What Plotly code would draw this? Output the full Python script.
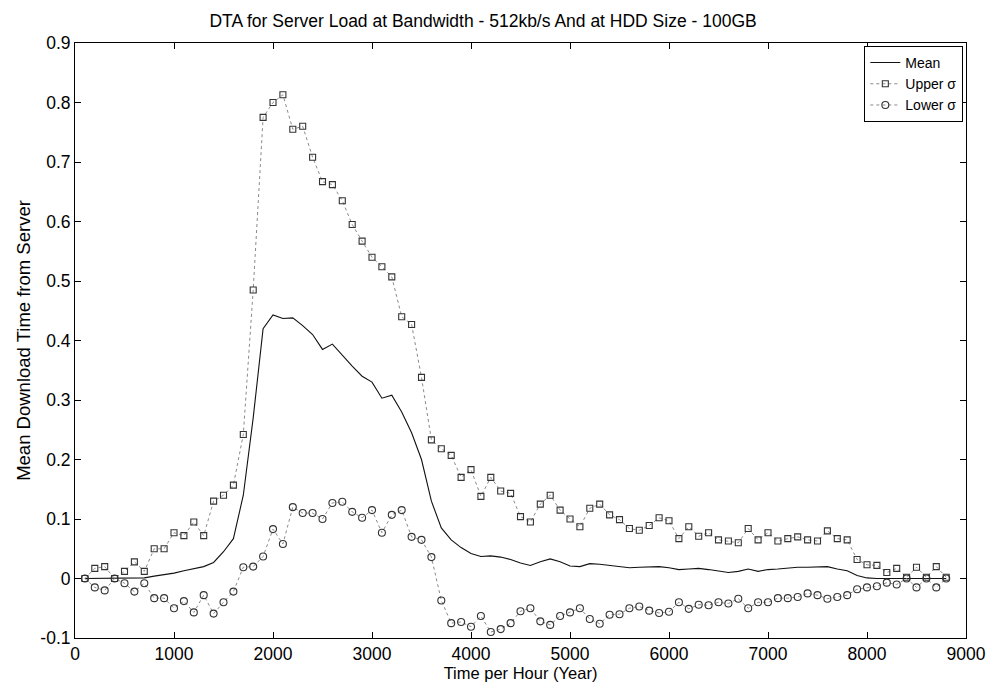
import plotly.graph_objects as go

# Sampling instants (hours), one every 100
time_h = list(range(100, 8900, 100))

mean_vals = [
    0.0, 0.0, 0.0, 0.0, 0.0, 0.0, 0.001, 0.004, 0.006, 0.009,
    0.013, 0.017, 0.02, 0.027, 0.045, 0.067, 0.14, 0.27, 0.42, 0.443,
    0.437, 0.438, 0.425, 0.41, 0.385, 0.394, 0.375, 0.357, 0.34, 0.33,
    0.303, 0.308, 0.28, 0.245, 0.2, 0.13, 0.085, 0.065, 0.052, 0.042,
    0.037, 0.038, 0.036, 0.032, 0.026, 0.022, 0.028, 0.033, 0.028, 0.021,
    0.02, 0.025, 0.024, 0.022, 0.019, 0.018, 0.019, 0.02, 0.02, 0.018,
    0.015, 0.016, 0.017, 0.015, 0.012, 0.01, 0.012, 0.016, 0.012, 0.015,
    0.016, 0.018, 0.019, 0.019, 0.02, 0.02, 0.016, 0.013, 0.005, 0.001,
    0.0, 0.0, 0.0, 0.0, 0.0, 0.0, 0.0, 0.0,
]

upper_vals = [
    0.0, 0.017, 0.02, 0.0, 0.012, 0.028, 0.012, 0.05, 0.05, 0.077,
    0.072, 0.095, 0.072, 0.13, 0.14, 0.157, 0.242, 0.485, 0.775, 0.80,
    0.813, 0.755, 0.76, 0.708, 0.667, 0.662, 0.635, 0.595, 0.567, 0.54,
    0.524, 0.507, 0.44, 0.427, 0.338, 0.233, 0.218, 0.207, 0.17, 0.183,
    0.138, 0.17, 0.147, 0.143, 0.104, 0.095, 0.125, 0.14, 0.115, 0.10,
    0.087, 0.118, 0.125, 0.107, 0.099, 0.084, 0.081, 0.089, 0.102, 0.097,
    0.067, 0.087, 0.071, 0.077, 0.065, 0.063, 0.06, 0.084, 0.065, 0.077,
    0.063, 0.067, 0.07, 0.065, 0.063, 0.08, 0.067, 0.065, 0.032, 0.023,
    0.022, 0.01, 0.017, 0.002, 0.019, 0.002, 0.02, 0.002,
]

lower_vals = [
    0.0, -0.015, -0.02, 0.0, -0.008, -0.022, -0.008, -0.033, -0.033, -0.05,
    -0.038, -0.057, -0.028, -0.059, -0.04, -0.022, 0.019, 0.02, 0.037, 0.083,
    0.058, 0.12, 0.11, 0.11, 0.10, 0.127, 0.129, 0.112, 0.102, 0.115,
    0.077, 0.107, 0.115, 0.07, 0.065, 0.036, -0.037, -0.075, -0.073, -0.081,
    -0.063, -0.09, -0.085, -0.075, -0.055, -0.05, -0.072, -0.078, -0.063, -0.057,
    -0.05, -0.068, -0.076, -0.061, -0.06, -0.05, -0.047, -0.054, -0.058, -0.056,
    -0.04, -0.051, -0.044, -0.045, -0.04, -0.042, -0.034, -0.05, -0.04, -0.04,
    -0.033, -0.033, -0.031, -0.025, -0.028, -0.034, -0.031, -0.028, -0.018, -0.015,
    -0.013, -0.007, -0.01, 0.0, -0.015, 0.0, -0.015, 0.0,
]

x_ticks = [0, 1000, 2000, 3000, 4000, 5000, 6000, 7000, 8000, 9000]
y_ticks = [-0.1, 0, 0.1, 0.2, 0.3, 0.4, 0.5, 0.6, 0.7, 0.8, 0.9]
y_tick_text = ["-0.1", "0", "0.1", "0.2", "0.3", "0.4", "0.5", "0.6", "0.7", "0.8", "0.9"]

FONT = "Liberation Sans, Arial, sans-serif"

fig = go.Figure()

fig.add_trace(go.Scatter(
    x=time_h, y=mean_vals, name="Mean", mode="lines",
    line=dict(color="#111111", width=1.1),
))
fig.add_trace(go.Scatter(
    x=time_h, y=upper_vals, name="Upper σ", mode="lines+markers",
    line=dict(color="#8a8a8a", width=1, dash="dot"),
    marker=dict(symbol="square-open", size=6, color="#333333",
                line=dict(width=1.1, color="#333333")),
))
fig.add_trace(go.Scatter(
    x=time_h, y=lower_vals, name="Lower σ", mode="lines+markers",
    line=dict(color="#8a8a8a", width=1, dash="dot"),
    marker=dict(symbol="circle-open", size=7, color="#333333",
                line=dict(width=1.1, color="#333333")),
))

axis_common = dict(
    showline=True, linecolor="black", linewidth=1, mirror="ticks",
    ticks="inside", ticklen=6, tickcolor="black", tickwidth=1,
    showgrid=False, zeroline=False,
    tickfont=dict(family=FONT, size=17.5, color="black"),
)

fig.update_layout(
    width=998, height=688,
    margin=dict(l=75, r=23, t=43, b=45),
    paper_bgcolor="white", plot_bgcolor="white",
    title=dict(
        text="DTA for Server Load at Bandwidth - 512kb/s And at HDD Size - 100GB",
        x=0.484, xanchor="center", y=0.97, yanchor="middle",
        font=dict(family=FONT, size=17.5, color="black"),
    ),
    xaxis=dict(
        range=[0, 9000], tickvals=x_ticks,
        title=dict(text="Time per Hour (Year)", standoff=0,
                   font=dict(family=FONT, size=16.5, color="black")),
        **axis_common,
    ),
    yaxis=dict(
        range=[-0.1, 0.9], tickvals=y_ticks, ticktext=y_tick_text,
        title=dict(text="Mean Download Time from Server", standoff=4,
                   font=dict(family=FONT, size=18.5, color="black")),
        **axis_common,
    ),
    legend=dict(
        x=0.997, y=0.995, xanchor="right", yanchor="top",
        bgcolor="white", bordercolor="black", borderwidth=1,
        font=dict(family=FONT, size=14, color="black"),
        itemwidth=30, tracegroupgap=0,
    ),
    showlegend=True,
)

fig.write_html("out.html")
